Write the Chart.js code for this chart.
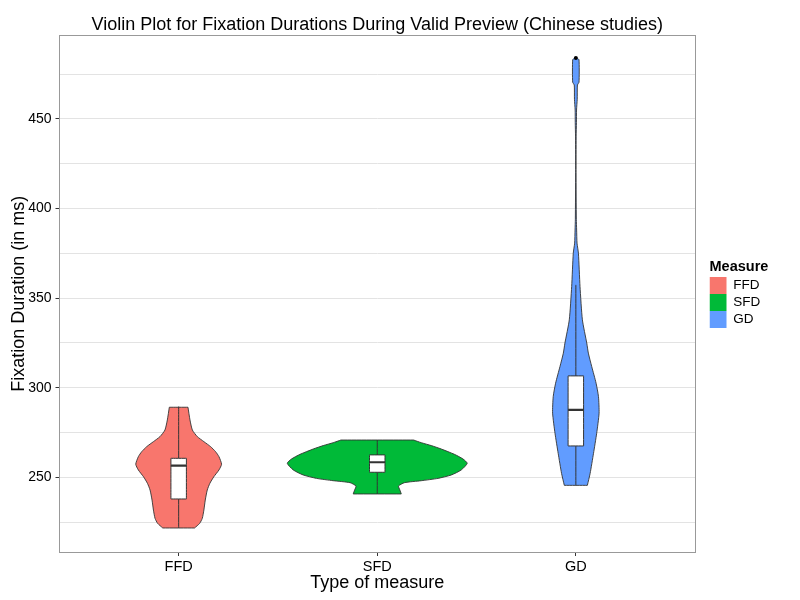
<!DOCTYPE html>
<html><head><meta charset="utf-8">
<script src="https://cdn.jsdelivr.net/npm/chart.js@4.4.1/dist/chart.umd.min.js"></script>
<style>html,body{margin:0;padding:0;background:#fff}#c{display:block}</style>
</head><body>
<canvas id="c" width="800" height="600"></canvas>
<script>
// ---- data ----
const categories = ['FFD', 'SFD', 'GD'];
// violin outlines: y values (ms) and half-widths (in category units)
const ffdY = [221.7,224.3,227.1,231.7,237.3,242.9,246.6,250.3,254.1,257.3,261.5,264.3,267.1,269.9,272.7,276.4,282.0,289.1];
const ffdW = [0.080,0.106,0.119,0.127,0.134,0.144,0.157,0.177,0.203,0.216,0.203,0.186,0.161,0.127,0.094,0.069,0.057,0.047];
const sfdY = [240.7,242.9,245.1,247.0,248.1,249.4,251.3,254.1,257.8,260.2,262.8,265.8,267.7,269.3,270.8];
const sfdW = [0.121,0.114,0.107,0.137,0.222,0.306,0.373,0.423,0.453,0.432,0.389,0.322,0.272,0.222,0.183];
const gdY = [245.5,252.2,263.4,274.6,285.8,295.0,302.5,311.8,319.3,324.9,337.9,356.5,375.1,380.7,388,394,420,440,448,455,461,469,470.5,483,484];
const gdW = [0.058,0.072,0.089,0.105,0.117,0.114,0.102,0.080,0.063,0.055,0.033,0.021,0.013,0.006,0.004,0.0025,0.001,0.0015,0.003,0.0035,0.007,0.008,0.016,0.016,0.0075];
// box plot statistics per category
const boxQ1 = [237.9, 252.8, 267.5];
const boxMedian = [256.5, 258.4, 287.6];
const boxQ3 = [260.6, 262.5, 306.6];
const whiskerLow = [221.7, 240.7, 245.5];
const whiskerHigh = [289.5, 270.8, 357.4];
const gdOutliers = [484];
// axis ticks
const yTicks = [225, 250, 275, 300, 325, 350, 375, 400, 425, 450, 475];

// ---- styles ----
const fillColors = ['#F8766D', '#00BA38', '#619CFF'];
const edge = '#333333';
const BOX_HALF = 0.039;

function violinPoly(center, ys, ws) {
  const n = ys.length;
  const pts = [];
  pts.push({x: center - ws[0], y: ys[0]});
  for (let i = 0; i < n; i++) pts.push({x: center - ws[i], y: ys[i]});
  pts.push({x: center - ws[n - 1], y: ys[n - 1]});
  pts.push({x: center + ws[n - 1], y: ys[n - 1]});
  for (let i = n - 1; i >= 0; i--) pts.push({x: center + ws[i], y: ys[i]});
  pts.push({x: center + ws[0], y: ys[0]});
  pts.push({x: center - ws[0], y: ys[0]});
  pts.push({x: center - ws[0], y: ys[0]});
  return pts;
}

const violinData = [[ffdY, ffdW], [sfdY, sfdW], [gdY, gdW]];
const datasets = [];
categories.forEach((cat, i) => {
  const c = i + 1;
  datasets.push({
    label: cat, data: violinPoly(c, violinData[i][0], violinData[i][1]),
    showLine: true, fill: 'shape', backgroundColor: fillColors[i], borderColor: edge,
    borderWidth: 0.9, borderJoinStyle: 'round', tension: 0.2, pointRadius: 0, pointHitRadius: 0, order: 5
  });
  datasets.push({
    label: cat + ' whisker', data: [{x: c, y: whiskerLow[i]}, {x: c, y: whiskerHigh[i]}],
    showLine: true, fill: false, borderColor: edge, borderWidth: 1, tension: 0.001, pointRadius: 0, order: 4
  });
  datasets.push({
    label: cat + ' box', data: [
      {x: c - BOX_HALF, y: boxQ1[i]}, {x: c - BOX_HALF, y: boxQ3[i]},
      {x: c + BOX_HALF, y: boxQ3[i]}, {x: c + BOX_HALF, y: boxQ1[i]},
      {x: c - BOX_HALF, y: boxQ1[i]}],
    showLine: true, fill: 'shape', backgroundColor: '#ffffff', borderColor: edge,
    borderWidth: 1, borderJoinStyle: 'miter', tension: 0.0001, pointRadius: 0, order: 3
  });
  datasets.push({
    label: cat + ' median', data: [{x: c - BOX_HALF, y: boxMedian[i]}, {x: c + BOX_HALF, y: boxMedian[i]}],
    showLine: true, fill: false, borderColor: edge, borderWidth: 2.2, tension: 0.0001, pointRadius: 0, order: 2
  });
});
datasets.push({
  label: 'GD outliers', data: gdOutliers.map(v => ({x: 3, y: v})),
  showLine: false, pointRadius: 2, backgroundColor: '#000', borderColor: '#000', borderWidth: 0, order: 1
});

const panelBorder = {
  id: 'panelBorder',
  afterDraw(chart) {
    const {ctx, chartArea: a} = chart;
    ctx.save();
    ctx.strokeStyle = '#999999';
    ctx.lineWidth = 1;
    const l = Math.floor(a.left) + 0.5, t = Math.floor(a.top) + 0.5;
    const r = Math.floor(a.right) + 0.5, b = Math.floor(a.bottom) + 0.5;
    ctx.strokeRect(l, t, r - l, b - t);
    ctx.restore();
  }
};

Chart.defaults.font.family = '"Liberation Sans", Arial, sans-serif';
Chart.defaults.color = '#000';

new Chart(document.getElementById('c'), {
  type: 'scatter',
  data: {datasets},
  plugins: [panelBorder],
  options: {
    responsive: false, animation: false, devicePixelRatio: 1, events: [],
    layout: {padding: {left: 10, right: 29.75, top: 0, bottom: 7.5}},
    scales: {
      x: {
        type: 'linear', min: 0.4, max: 3.6,
        afterBuildTicks: s => { s.ticks = categories.map((_, i) => ({value: i + 1})); },
        afterFit: s => { s.height = 40.5; },
        ticks: {callback: v => categories[v - 1] || '', font: {size: 14.5, lineHeight: 1}, color: '#000', padding: 4, autoSkip: false, maxRotation: 0},
        grid: {drawOnChartArea: false, color: 'transparent', tickColor: edge, tickLength: 4},
        border: {display: false},
        title: {display: true, text: 'Type of measure', font: {size: 18, lineHeight: 1}, color: '#000', padding: {top: 0, bottom: 0}}
      },
      y: {
        type: 'linear', min: 208.3, max: 496.6,
        afterBuildTicks: s => { s.ticks = yTicks.map(v => ({value: v})); },
        afterFit: s => { s.width = 49.5; },
        ticks: {callback: v => (v % 50 === 0 ? String(v) : ''), font: {size: 14, lineHeight: 1}, color: '#000', padding: 4, autoSkip: false},
        grid: {color: '#e3e3e3', lineWidth: 1, tickLength: 4,
               tickColor: ctx => (ctx.tick && ctx.tick.value % 50 === 0 ? edge : 'transparent')},
        border: {display: false},
        title: {display: true, text: 'Fixation Duration (in ms)', font: {size: 18, lineHeight: 1}, color: '#000', padding: {top: 0, bottom: 0}}
      },
      yGap: {
        type: 'linear', position: 'right', display: true,
        grid: {display: false}, ticks: {display: false}, border: {display: false},
        afterFit: s => { s.width = 14.5; }
      }
    },
    plugins: {
      title: {display: true, text: 'Violin Plot for Fixation Durations During Valid Preview (Chinese studies)',
              font: {size: 18, weight: 'normal', lineHeight: 1}, color: '#000', padding: {top: 16.5, bottom: 1}, fullSize: false},
      legend: {
        display: true, position: 'right', align: 'center', fullSize: false,
        title: {display: true, text: 'Measure', font: {size: 14.5, weight: 'bold'}, color: '#000', position: 'start', padding: 0},
        labels: {
          boxWidth: 17, boxHeight: 17, padding: 0, font: {size: 13.5}, color: '#000',
          generateLabels: () => categories.map((c, i) => ({
            text: c, fillStyle: fillColors[i], strokeStyle: fillColors[i], lineWidth: 0, hidden: false, datasetIndex: i * 4
          }))
        }
      },
      tooltip: {enabled: false}
    }
  }
});
</script>
</body></html>
